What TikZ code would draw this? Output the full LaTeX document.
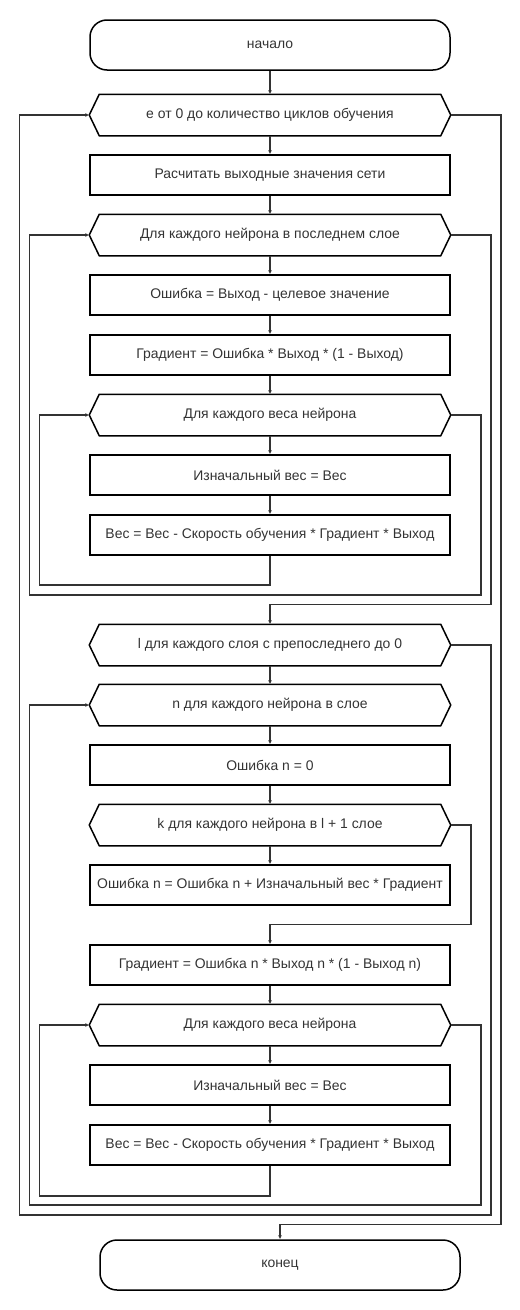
\documentclass[tikz,border=0pt]{standalone}
\usepackage{fontspec}
\setmainfont{Liberation Sans}
\usetikzlibrary{arrows.meta}

\tikzset{
  procbox/.style={draw=black, line width=1.5bp, minimum width=360bp, minimum height=40bp,
    inner sep=0pt, font=\fontsize{14}{16}\selectfont, text=black!80},
  termbox/.style={procbox, rounded corners=17bp, minimum height=50bp},
  loophex/.style={procbox, draw=none},
  hexline/.style={draw=black, line width=1.5bp},
  flow/.style={draw=black!80, line width=1.5bp, -{Latex[length=4bp,width=4bp]}}
}

\begin{document}
\begin{tikzpicture}
  \useasboundingbox (0,0) rectangle (520bp,-1310bp);
  %% first part: last layer
  \node[termbox] (start) at (270bp,-45bp) {начало};
  \node[loophex] (epoch) at (270bp,-115bp) {e от 0 до количество циклов обучения};
  \node[procbox] (calcout) at (270bp,-175bp) {Расчитать выходные значения сети};
  \node[loophex] (lastloop) at (270bp,-235bp) {Для каждого нейрона в последнем слое};
  \node[procbox] (err) at (270bp,-295bp) {Ошибка = Выход - целевое значение};
  \node[procbox] (grad) at (270bp,-355bp) {Градиент = Ошибка * Выход * (1 - Выход)};
  \node[loophex] (wloopa) at (270bp,-415bp) {Для каждого веса нейрона};
  \node[procbox] (keepa) at (270bp,-475bp) {Изначальный вес = Вес};
  \node[procbox] (upda) at (270bp,-535bp) {Вес = Вес - Скорость обучения * Градиент * Выход};
  %% second part: hidden layers
  \node[loophex] (layerloop) at (270bp,-645bp) {l для каждого слоя с препоследнего до 0};
  \node[loophex] (nloop) at (270bp,-705bp) {n для каждого нейрона в слое};
  \node[procbox] (errn) at (270bp,-765bp) {Ошибка n = 0};
  \node[loophex] (kloop) at (270bp,-825bp) {k для каждого нейрона в l + 1 слое};
  \node[procbox] (sumerr) at (270bp,-885bp) {Ошибка n = Ошибка n + Изначальный вес * Градиент};
  \node[procbox] (gradn) at (270bp,-965bp) {Градиент = Ошибка n * Выход n * (1 - Выход n)};
  \node[loophex] (wloopb) at (270bp,-1025bp) {Для каждого веса нейрона};
  \node[procbox] (keepb) at (270bp,-1085bp) {Изначальный вес = Вес};
  \node[procbox] (updb) at (270bp,-1145bp) {Вес = Вес - Скорость обучения * Градиент * Выход};
  \node[termbox] (stop) at (280bp,-1265bp) {конец};
  %% loop headers
  \foreach \n in {epoch,lastloop,wloopa,layerloop,nloop,kloop,wloopb}
    \draw[hexline] (\n.west) -- ([xshift=10bp]\n.north west) -- ([xshift=-10bp]\n.north east)
      -- (\n.east) -- ([xshift=-10bp]\n.south east) -- ([xshift=10bp]\n.south west) -- cycle;
  %% straight links
  \foreach \a/\b in {start/epoch,epoch/calcout,calcout/lastloop,lastloop/err,err/grad,
      grad/wloopa,wloopa/keepa,keepa/upda,layerloop/nloop,nloop/errn,errn/kloop,
      kloop/sumerr,gradn/wloopb,wloopb/keepb,keepb/updb}
    \draw[flow] (\a.south) -- (\b.north);
  %% loop back and exit links
  \draw[flow] (upda.south) -- ++(0,-29bp) -| ([xshift=-50bp]wloopa.west) -- (wloopa.west);
  \draw[flow] (wloopa.east) -- ++(30bp,0) -- ++(0,-180bp) -| ([xshift=-60bp]lastloop.west) -- (lastloop.west);
  \draw[flow] (lastloop.east) -- ++(40bp,0) |- ([yshift=20bp]layerloop.north) -- (layerloop.north);
  \draw[flow] (kloop.east) -- ++(20bp,0) |- ([yshift=20bp]gradn.north) -- (gradn.north);
  \draw[flow] (updb.south) -- ++(0,-30bp) -| ([xshift=-50bp]wloopb.west) -- (wloopb.west);
  \draw[flow] (wloopb.east) -- ++(30bp,0) -- ++(0,-180bp) -| ([xshift=-60bp]nloop.west) -- (nloop.west);
  \draw[flow] (layerloop.east) -- ++(40bp,0) -- ++(0,-570bp) -| ([xshift=-70bp]epoch.west) -- (epoch.west);
  \draw[flow] (epoch.east) -- ++(50bp,0) |- ([yshift=15bp]stop.north) -- (stop.north);
\end{tikzpicture}
\end{document}
